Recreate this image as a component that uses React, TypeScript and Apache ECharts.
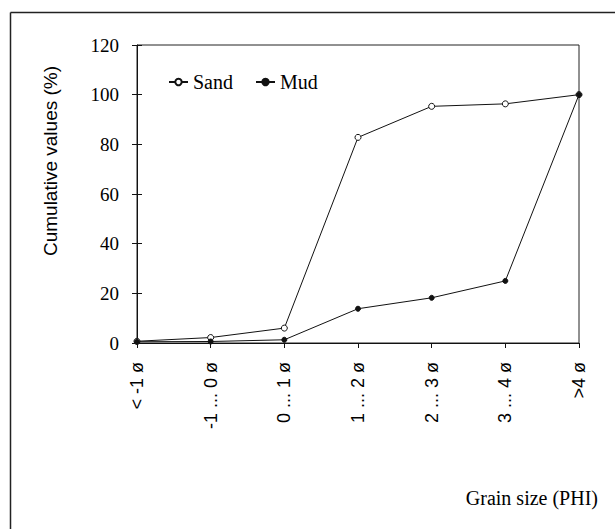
import React, { useEffect, useRef } from "react";
import * as echarts from "echarts";

const categories = ["< -1 ø", "-1 ... 0 ø", "0 ... 1 ø", "1 ... 2 ø", "2 ... 3 ø", "3 ... 4 ø", ">4 ø"];
const sandValues = [0.7, 2.2, 6, 82.8, 95.3, 96.3, 100];
const mudValues = [0.5, 0.6, 1.3, 13.8, 18.2, 25, 100];
const yTicks = { min: 0, max: 120, interval: 20 };
const seriesNames = ["Sand", "Mud"];
const yTitle = "Cumulative values (%)";
const xTitle = "Grain size (PHI)";

const serif = "'Liberation Serif', 'Times New Roman', serif";
const sans = "'Liberation Sans', Arial, sans-serif";

export default function App() {
  const ref = useRef<HTMLDivElement>(null);
  useEffect(() => {
    if (!ref.current) return;
    const chart = echarts.init(ref.current, null, { renderer: "svg" });
    chart.setOption({
      animation: false,
      backgroundColor: "#fff",
      grid: {
        left: 137,
        right: 36,
        top: 45,
        bottom: 186,
        show: true,
        borderColor: "#222",
        borderWidth: 1,
      },
      legend: {
        left: 168,
        top: 72,
        padding: 0,
        itemWidth: 19,
        itemHeight: 8,
        itemGap: 22,
        textStyle: { fontFamily: serif, fontSize: 20, color: "#000" },
        data: seriesNames,
      },
      xAxis: {
        type: "category",
        data: categories,
        boundaryGap: false,
        axisLine: { lineStyle: { color: "#111", width: 1 } },
        axisTick: { show: true, length: 5, lineStyle: { color: "#111" } },
        axisLabel: {
          rotate: 90,
          margin: 19,
          fontFamily: sans,
          fontSize: 18,
          color: "#000",
          interval: 0,
        },
        splitLine: { show: false },
      },
      yAxis: [
        {
          type: "value",
          min: yTicks.min,
          max: yTicks.max,
          interval: yTicks.interval,
          position: "left",
          axisLine: { show: true, lineStyle: { color: "#111", width: 1 } },
          axisTick: { show: true, length: 5, lineStyle: { color: "#111" } },
          axisLabel: { margin: 18, fontFamily: serif, fontSize: 19, color: "#000" },
          splitLine: { show: false },
        },
        {
          type: "value",
          min: yTicks.min,
          max: yTicks.max,
          interval: yTicks.interval,
          position: "left",
          offset: 0,
          axisLine: { show: false },
          axisTick: { show: true, inside: true, length: 5, lineStyle: { color: "#111" } },
          axisLabel: { show: false },
          splitLine: { show: false },
        },
      ],
      series: [
        {
          name: seriesNames[0],
          type: "line",
          data: sandValues,
          symbol: "circle",
          symbolSize: 6,
          lineStyle: { color: "#111", width: 1 },
          itemStyle: { color: "#fff", borderColor: "#111", borderWidth: 1 },
        },
        {
          name: seriesNames[1],
          type: "line",
          data: mudValues,
          symbol: "circle",
          symbolSize: 5,
          lineStyle: { color: "#111", width: 1 },
          itemStyle: { color: "#111", borderColor: "#111", borderWidth: 1 },
        },
      ],
      graphic: [
        {
          type: "line",
          shape: { x1: 10.5, y1: 12.5, x2: 615, y2: 12.5 },
          style: { stroke: "#222", lineWidth: 1.5 },
        },
        {
          type: "line",
          shape: { x1: 10.5, y1: 12.5, x2: 10.5, y2: 529 },
          style: { stroke: "#222", lineWidth: 1.5 },
        },
        {
          type: "text",
          x: 50,
          y: 161,
          rotation: Math.PI / 2,
          style: {
            text: yTitle,
            fontFamily: sans,
            fontSize: 19,
            fill: "#000",
            align: "center",
            verticalAlign: "middle",
          },
        },
        {
          type: "text",
          x: 598,
          y: 498,
          style: {
            text: xTitle,
            fontFamily: serif,
            fontSize: 20,
            fill: "#000",
            align: "right",
            verticalAlign: "middle",
          },
        },
      ],
    });
    return () => chart.dispose();
  }, []);
  return (
    <div
      ref={ref}
      style={{ position: "fixed", left: 0, top: 0, width: 615, height: 529 }}
    />
  );
}
